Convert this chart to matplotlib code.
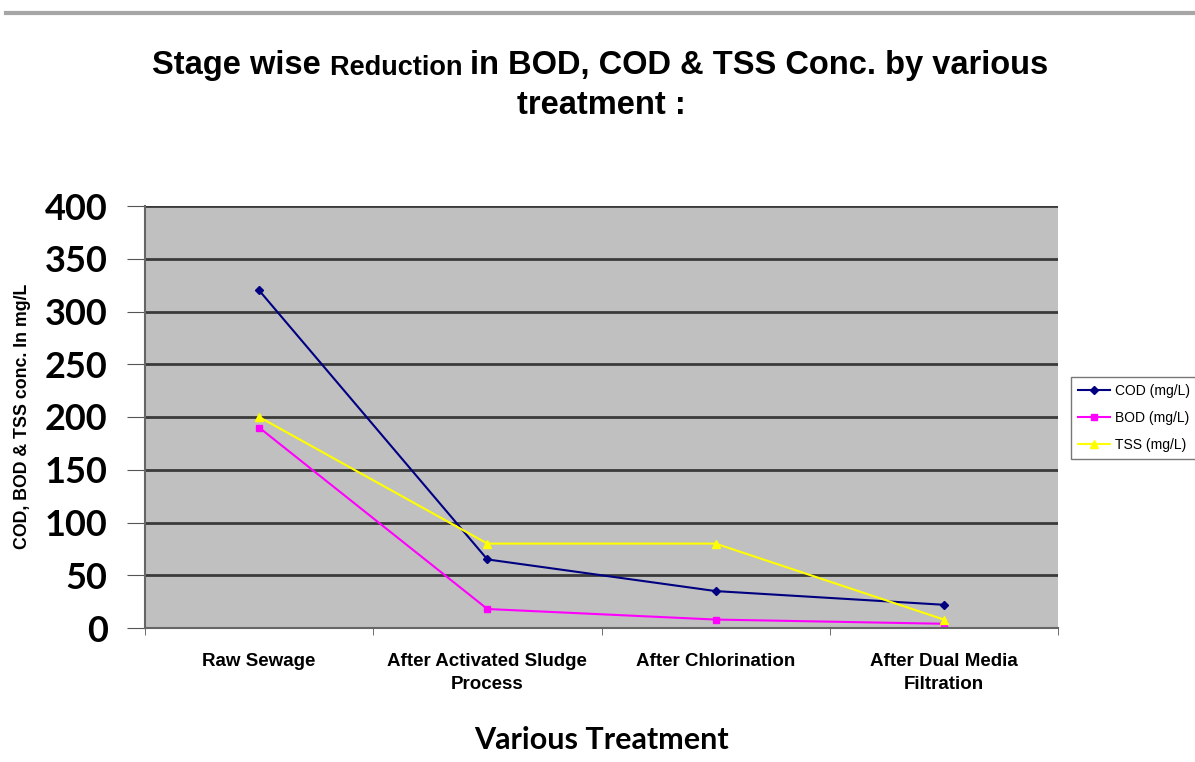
import matplotlib.pyplot as plt
from matplotlib.lines import Line2D

# data
stages = ["Raw Sewage", "After Activated Sludge\nProcess", "After Chlorination",
          "After Dual Media\nFiltration"]
cod = [320, 65, 35, 22]
bod = [190, 18, 8, 4]
tss = [200, 80, 80, 8]
yticks = [0, 50, 100, 150, 200, 250, 300, 350, 400]

fig = plt.figure(figsize=(11.95, 7.62), dpi=100)
ax = fig.add_axes([145/1195, 1 - 628/762, (1058-145)/1195, (628-206)/762])
ax.set_facecolor("#c0c0c0")

x = list(range(len(stages)))
ax.plot(x, cod, color="#000080", marker="D", ms=4.5, lw=1.5, label="COD (mg/L)")
ax.plot(x, bod, color="#ff00ff", marker="s", ms=5, lw=1.5, label="BOD (mg/L)")
ax.plot(x, tss, color="#ffff00", marker="^", ms=6, lw=1.5, label="TSS (mg/L)")

ax.set_xlim(-0.5, len(stages) - 0.5)
ax.set_ylim(0, 400)
ax.set_yticks(yticks)
ax.set_yticklabels([str(v) for v in yticks], fontsize=26, fontweight="bold",
                   family="Lato")
ax.yaxis.grid(True, color="#3a3a3a", lw=2)
ax.set_axisbelow(True)

ax.set_xticks(x)
ax.set_xticklabels(stages, fontsize=13.5, fontweight="bold", family="Liberation Sans",
                   linespacing=1.45)
ax.set_xticks([i - 0.5 for i in range(len(stages) + 1)], minor=True)
ax.tick_params(axis="x", which="major", length=0, pad=18)
ax.tick_params(axis="x", which="minor", length=5, color="#555555")
ax.tick_params(axis="y", length=13, color="#555555", pad=14)
for s in ["top", "right"]:
    ax.spines[s].set_visible(False)
for s in ["left", "bottom"]:
    ax.spines[s].set_color("#666666")
    ax.spines[s].set_linewidth(1.5)

fig.text(23/1195, 1 - 416/762, "COD, BOD & TSS conc. In mg/L", rotation=90,
         ha="center", va="center", fontsize=12.8, fontweight="bold",
         family="Liberation Sans")
fig.text(601/1195, 1 - 740/762, "Various Treatment", ha="center", va="center",
         fontsize=22, fontweight="bold", family="Lato")

# title, "Reduction" is set smaller in the original
t1 = fig.text(152/1195, 1 - 74/762, "Stage wise ", fontsize=23.5, fontweight="bold",
              family="Liberation Sans", va="baseline")
t2 = ax.annotate("Reduction ", xy=(1, 0), xycoords=t1, fontsize=19.5,
                 fontweight="bold", family="Liberation Sans", va="bottom",
                 annotation_clip=False)
ax.annotate("in BOD, COD & TSS Conc. by various", xy=(1, 0), xycoords=t2,
            fontsize=23.5, fontweight="bold", family="Liberation Sans", va="bottom",
            annotation_clip=False)
fig.text(601/1195, 1 - 105/762, "treatment :", ha="center", va="center",
         fontsize=23.5, fontweight="bold", family="Liberation Sans")

leg = fig.legend(loc="upper left", bbox_to_anchor=(1071/1195, 1 - 377/762),
                 prop={"family": "Liberation Sans", "size": 10}, frameon=True,
                 fancybox=False, edgecolor="#555555", handlelength=2.3,
                 handletextpad=0.35, borderpad=0.5, labelspacing=0.95,
                 borderaxespad=0)

fig.add_artist(Line2D([0.005, 1], [1 - 13/762, 1 - 13/762], color="#a6a6a6", lw=3))

fig.savefig("out.png", dpi=100)
